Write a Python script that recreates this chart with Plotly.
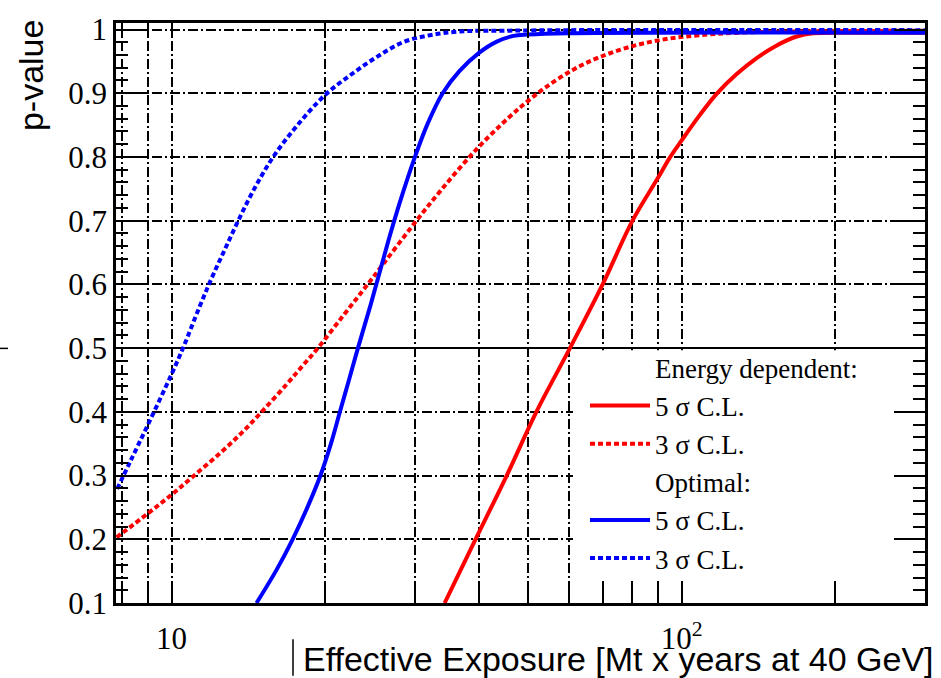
import numpy as np
import plotly.graph_objects as go

# Optimal, 3 sigma C.L.
opt3_x = [7.82, 8.285, 9.0, 10.01, 10.54, 11.36, 12.0, 12.72, 13.51, 14.57, 15.82, 17.61,
          19.98, 22.37, 25.04, 28.42, 32.09, 36.76, 44.03, 60.0, 300.0]
opt3_y = [0.279, 0.321, 0.381, 0.460, 0.501, 0.566, 0.611, 0.655, 0.700, 0.752, 0.800, 0.849,
          0.897, 0.928, 0.955, 0.980, 0.991, 0.997, 0.998, 0.999, 0.999]

# Optimal, 5 sigma C.L.
opt5_x = [14.67, 16.06, 17.27, 18.46, 19.58, 20.53, 21.38, 22.27, 23.19, 24.54, 26.6, 28.03,
          30.0, 31.8, 34.0, 36.7, 40.0, 43.4, 46.8, 50.0, 60.0, 300.0]
opt5_y = [0.100, 0.152, 0.200, 0.250, 0.300, 0.350, 0.400, 0.450, 0.500, 0.567, 0.668, 0.729,
          0.800, 0.853, 0.900, 0.935, 0.963, 0.981, 0.990, 0.992, 0.994, 0.995]

# Energy dependent, 3 sigma C.L.
ed3_x = [7.80, 9.0, 10.0, 11.03, 12.44, 13.8, 15.1, 16.8, 18.1, 19.4, 21.7, 23.8, 26.0,
         29.6, 33.6, 39.6, 46.0, 50.0, 54.3, 61.3, 69.2, 80.2, 93.2, 108.0, 130.1, 170.6, 300.0]
ed3_y = [0.203, 0.241, 0.270, 0.299, 0.335, 0.369, 0.402, 0.443, 0.473, 0.501, 0.551, 0.592, 0.632,
         0.691, 0.746, 0.812, 0.863, 0.888, 0.910, 0.937, 0.957, 0.974, 0.985, 0.991, 0.995, 0.997, 0.998]

# Energy dependent, 5 sigma C.L.
ed5_x = [34.3, 39.6, 45.4, 51.9, 60.4, 70.0, 80.1, 90.0, 94.8, 100.0, 108.6, 117.1,
         128.2, 140.3, 153.6, 168.1, 181.1, 220.0, 300.0]
ed5_y = [0.100, 0.203, 0.300, 0.400, 0.500, 0.600, 0.700, 0.768, 0.799, 0.826, 0.866, 0.899,
         0.930, 0.955, 0.975, 0.989, 0.994, 0.995, 0.995]

# Axis ticks
x_tickvals = [8, 9, 10, 20, 30, 40, 50, 60, 70, 80, 90, 100, 200, 300]
x_ticktext = ["", "", "10", "", "", "", "", "", "", "", "", "10<sup>2</sup>", "", ""]
y_tickvals = [0.1, 0.2, 0.3, 0.4, 0.5, 0.6, 0.7, 0.8, 0.9, 1.0]
y_ticktext = ["0.1", "0.2", "0.3", "0.4", "0.5", "0.6", "0.7", "0.8", "0.9", "1"]

RED = "#ff0000"
BLUE = "#0000ff"
SERIF = "Liberation Serif"
SANS = "Liberation Sans"

W, H = 941, 678
ML, MR, MT, MB = 116, 16, 13, 75
PW, PH = W - ML - MR, H - MT - MB

X_RANGE = [np.log10(7.78), np.log10(300)]
Y_RANGE = [0.1, 1.0102]


def px(xp):
    """page pixel column -> paper fraction"""
    return (xp - ML) / PW


def py(yp):
    """page pixel row -> paper fraction"""
    return (H - MB - yp) / PH


def xd(xp):
    """page pixel column -> data value on the log x axis"""
    return 10 ** (X_RANGE[0] + px(xp) * (X_RANGE[1] - X_RANGE[0]))


def yd(yp):
    """page pixel row -> data value on the y axis"""
    return Y_RANGE[0] + py(yp) * (Y_RANGE[1] - Y_RANGE[0])


fig = go.Figure()

curve = dict(width=4, shape="spline", smoothing=1.0)

# group header rows in the legend (no line sample)
fig.add_trace(go.Scatter(x=[None], y=[None], mode="lines", name="Energy dependent:",
                         line=dict(color="rgba(0,0,0,0)", width=0), hoverinfo="skip"))
fig.add_trace(go.Scatter(x=ed5_x, y=ed5_y, mode="lines", name="5 σ C.L.",
                         line=dict(color=RED, **curve)))
fig.add_trace(go.Scatter(x=ed3_x, y=ed3_y, mode="lines", name="3 σ C.L.",
                         line=dict(color=RED, dash="5px,3px", **curve)))
fig.add_trace(go.Scatter(x=[None], y=[None], mode="lines", name="Optimal:",
                         line=dict(color="rgba(0,0,0,0)", width=0), hoverinfo="skip"))
fig.add_trace(go.Scatter(x=opt5_x, y=opt5_y, mode="lines", name="5 σ C.L. ",
                         line=dict(color=BLUE, **curve)))
fig.add_trace(go.Scatter(x=opt3_x, y=opt3_y, mode="lines", name="3 σ C.L.  ",
                         line=dict(color=BLUE, dash="5px,3px", **curve)))

shapes = [
    # white panel behind the legend
    dict(type="rect", xref="x", yref="y", x0=xd(573), x1=xd(925), y0=yd(578), y1=yd(346),
         fillcolor="white", line=dict(width=0), layer="between"),
    # solid reference line at p = 0.5
    dict(type="line", xref="x", yref="y", x0=xd(ML), x1=xd(W - MR), y0=0.5, y1=0.5,
         line=dict(color="black", width=2), layer="between"),
    # stray marks around the frame
    dict(type="line", xref="paper", yref="paper", x0=px(0), x1=px(8), y0=py(344), y1=py(344),
         line=dict(color="black", width=1.5)),
    dict(type="line", xref="paper", yref="paper", x0=px(293), x1=px(293), y0=py(640), y1=py(677),
         line=dict(color="black", width=1.5)),
]

annotations = [
    dict(text="p-value", xref="paper", yref="paper", x=px(31), y=py(66), textangle=-90,
         showarrow=False, xanchor="center", yanchor="middle",
         font=dict(family=SANS, size=34, color="black")),
    dict(text="Effective Exposure [Mt x years at 40 GeV]", xref="paper", yref="paper",
         x=px(936), y=py(660), showarrow=False, xanchor="right", yanchor="middle",
         font=dict(family=SANS, size=34, color="black")),
]

grid_dash = "10px,3px,2px,3px"

fig.update_layout(
    width=W, height=H,
    margin=dict(l=ML, r=MR, t=MT, b=MB, pad=0),
    paper_bgcolor="white", plot_bgcolor="white",
    showlegend=True,
    legend=dict(x=px(585), y=py(339), xanchor="left", yanchor="top",
                bgcolor="rgba(0,0,0,0)", borderwidth=0,
                font=dict(family=SERIF, size=27, color="black"),
                traceorder="normal", itemwidth=60),
    shapes=shapes,
    annotations=annotations,
    xaxis=dict(
        type="log", range=X_RANGE,
        tickmode="array", tickvals=x_tickvals, ticktext=x_ticktext,
        ticks="inside", ticklen=14, tickwidth=2, tickcolor="black",
        showline=True, linecolor="black", linewidth=2.5, mirror="ticks",
        showgrid=True, gridcolor="black", gridwidth=2, griddash=grid_dash,
        tickfont=dict(family=SERIF, size=31, color="black"),
        ticklabelstandoff=6,
        zeroline=False,
    ),
    yaxis=dict(
        range=Y_RANGE,
        tickmode="array", tickvals=y_tickvals, ticktext=y_ticktext,
        ticks="inside", ticklen=31, tickwidth=2, tickcolor="black",
        showline=True, linecolor="black", linewidth=2.5, mirror="ticks",
        showgrid=True, gridcolor="black", gridwidth=2, griddash=grid_dash,
        tickfont=dict(family=SERIF, size=31, color="black"),
        minor=dict(dtick=0.02, tick0=0.1, ticks="inside", ticklen=12, tickwidth=2,
                   tickcolor="black", showgrid=False),
        zeroline=False,
    ),
)

fig.write_html("out.html")
